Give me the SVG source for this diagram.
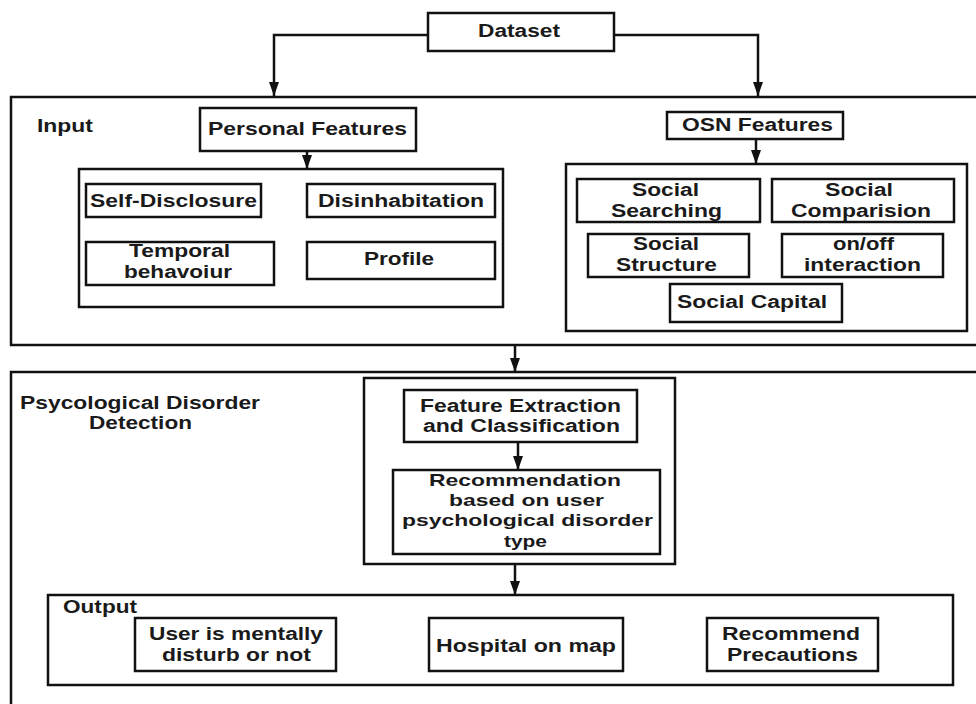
<svg xmlns="http://www.w3.org/2000/svg" width="976" height="704" viewBox="0 0 976 704">
<defs>
<marker id="arr" viewBox="0 0 14 10" refX="14" refY="5" markerWidth="14" markerHeight="10" markerUnits="userSpaceOnUse" orient="auto">
<path d="M0,0 L14,5 L0,10 Z" fill="#111"/>
</marker>
</defs>
<style>
.b{fill:#fff;stroke:#111;stroke-width:2.5}
.c{fill:none;stroke:#111;stroke-width:2.5}
.t{font-family:"Liberation Sans",Arial,sans-serif;font-weight:bold;font-size:18px;fill:#1a1a1a}
.s{font-size:17px}
</style>
<rect width="976" height="704" fill="#fff"/>
<g id="input">
<rect class="b" x="11" y="97" width="990" height="248"/>
<text class="t" x="37" y="132" textLength="56" lengthAdjust="spacingAndGlyphs">Input</text>
</g>
<g id="pdd">
<rect class="b" x="11" y="372" width="990" height="360"/>
<text class="t" x="20" y="409" textLength="240" lengthAdjust="spacingAndGlyphs">Psycological Disorder</text>
<text class="t" x="89" y="429" textLength="103" lengthAdjust="spacingAndGlyphs">Detection</text>
</g>
<g id="personal-group"><rect class="b" x="79" y="169" width="424" height="138"/></g>
<g id="osn-group"><rect class="b" x="566" y="164" width="401" height="167"/></g>
<g id="middle-group"><rect class="b" x="364" y="378" width="311" height="186"/></g>
<g id="output">
<rect class="b" x="48" y="595" width="905" height="90"/>
<text class="t" x="63" y="613" textLength="74" lengthAdjust="spacingAndGlyphs">Output</text>
</g>
<g id="connectors">
<polyline class="c" points="428,35 274,35 274,96" marker-end="url(#arr)"/>
<polyline class="c" points="614,35 758,35 758,96" marker-end="url(#arr)"/>
<line class="c" x1="307" y1="151" x2="307" y2="169" marker-end="url(#arr)"/>
<line class="c" x1="756" y1="139" x2="756" y2="164" marker-end="url(#arr)"/>
<line class="c" x1="515" y1="345" x2="515" y2="372" marker-end="url(#arr)"/>
<line class="c" x1="518" y1="442" x2="518" y2="470" marker-end="url(#arr)"/>
<line class="c" x1="515" y1="564" x2="515" y2="595" marker-end="url(#arr)"/>
</g>
<g id="dataset">
<rect class="b" x="428" y="13" width="186" height="38"/>
<text class="t" x="478" y="37" textLength="82" lengthAdjust="spacingAndGlyphs">Dataset</text>
</g>
<g id="personal-features">
<rect class="b" x="200" y="108" width="216" height="43"/>
<text class="t" x="208" y="135" textLength="199" lengthAdjust="spacingAndGlyphs">Personal Features</text>
</g>
<g id="self-disclosure">
<rect class="b" x="86" y="184" width="175" height="33"/>
<text class="t" x="90" y="207" textLength="167" lengthAdjust="spacingAndGlyphs">Self-Disclosure</text>
</g>
<g id="disinhabitation">
<rect class="b" x="307" y="184" width="188" height="33"/>
<text class="t" x="318" y="207" textLength="166" lengthAdjust="spacingAndGlyphs">Disinhabitation</text>
</g>
<g id="temporal">
<rect class="b" x="86" y="242" width="188" height="43"/>
<text class="t" x="129" y="257" textLength="101" lengthAdjust="spacingAndGlyphs">Temporal</text>
<text class="t" x="124" y="278" textLength="108" lengthAdjust="spacingAndGlyphs">behavoiur</text>
</g>
<g id="profile">
<rect class="b" x="307" y="242" width="188" height="37"/>
<text class="t" x="364" y="265" textLength="70" lengthAdjust="spacingAndGlyphs">Profile</text>
</g>
<g id="osn-features">
<rect class="b" x="667" y="112" width="176" height="27"/>
<text class="t" x="682" y="131" textLength="151" lengthAdjust="spacingAndGlyphs">OSN Features</text>
</g>
<g id="social-searching">
<rect class="b" x="577" y="179" width="183" height="43"/>
<text class="t" x="632" y="196" textLength="67" lengthAdjust="spacingAndGlyphs">Social</text>
<text class="t" x="611" y="217" textLength="111" lengthAdjust="spacingAndGlyphs">Searching</text>
</g>
<g id="social-comparision">
<rect class="b" x="772" y="179" width="182" height="43"/>
<text class="t" x="825" y="196" textLength="68" lengthAdjust="spacingAndGlyphs">Social</text>
<text class="t" x="791" y="217" textLength="140" lengthAdjust="spacingAndGlyphs">Comparision</text>
</g>
<g id="social-structure">
<rect class="b" x="588" y="234" width="161" height="43"/>
<text class="t" x="633" y="250" textLength="66" lengthAdjust="spacingAndGlyphs">Social</text>
<text class="t" x="616" y="271" textLength="101" lengthAdjust="spacingAndGlyphs">Structure</text>
</g>
<g id="onoff-interaction">
<rect class="b" x="782" y="234" width="161" height="43"/>
<text class="t" x="833" y="250" textLength="61" lengthAdjust="spacingAndGlyphs">on/off</text>
<text class="t" x="804" y="271" textLength="117" lengthAdjust="spacingAndGlyphs">interaction</text>
</g>
<g id="social-capital">
<rect class="b" x="670" y="284" width="172" height="38"/>
<text class="t" x="677" y="308" textLength="150" lengthAdjust="spacingAndGlyphs">Social Capital</text>
</g>
<g id="feature-extraction">
<rect class="b" x="404" y="390" width="233" height="52"/>
<text class="t" x="420" y="412" textLength="201" lengthAdjust="spacingAndGlyphs">Feature Extraction</text>
<text class="t" x="423" y="432" textLength="197" lengthAdjust="spacingAndGlyphs">and Classification</text>
</g>
<g id="recommendation">
<rect class="b" x="393" y="470" width="267" height="84"/>
<text class="t s" x="429" y="486" textLength="192" lengthAdjust="spacingAndGlyphs">Recommendation</text>
<text class="t s" x="449" y="506" textLength="155" lengthAdjust="spacingAndGlyphs">based on user</text>
<text class="t s" x="402" y="526" textLength="251" lengthAdjust="spacingAndGlyphs">psychological disorder</text>
<text class="t s" x="504" y="547" textLength="43" lengthAdjust="spacingAndGlyphs">type</text>
</g>
<g id="user-mentally">
<rect class="b" x="135" y="618" width="201" height="53"/>
<text class="t" x="149" y="640" textLength="174" lengthAdjust="spacingAndGlyphs">User is mentally</text>
<text class="t" x="162" y="661" textLength="149" lengthAdjust="spacingAndGlyphs">disturb or not</text>
</g>
<g id="hospital">
<rect class="b" x="429" y="618" width="194" height="53"/>
<text class="t" x="436" y="652" textLength="180" lengthAdjust="spacingAndGlyphs">Hospital on map</text>
</g>
<g id="precautions">
<rect class="b" x="707" y="618" width="171" height="53"/>
<text class="t" x="722" y="640" textLength="138" lengthAdjust="spacingAndGlyphs">Recommend</text>
<text class="t" x="727" y="661" textLength="131" lengthAdjust="spacingAndGlyphs">Precautions</text>
</g>
</svg>
